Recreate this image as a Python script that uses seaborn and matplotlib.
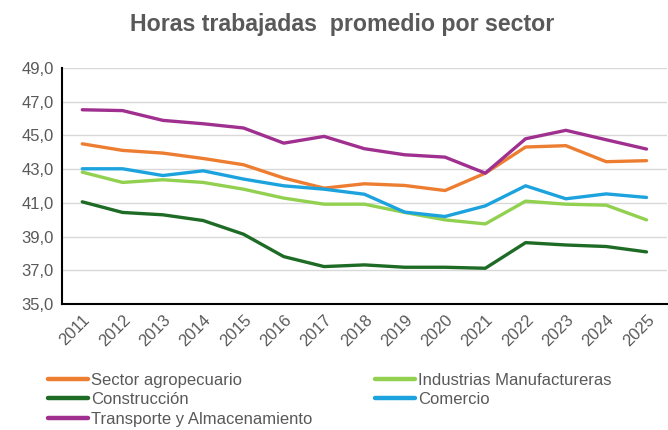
import numpy as np
import pandas as pd
import matplotlib
matplotlib.use("Agg")
import matplotlib.pyplot as plt
import seaborn as sns
from matplotlib.ticker import FuncFormatter

years = list(range(2011, 2026))
agro = [44.50, 44.11, 43.95, 43.63, 43.26, 42.47, 41.87, 42.13, 42.03, 41.73, 42.76, 44.31, 44.39, 43.44, 43.50]
manuf = [42.82, 42.21, 42.37, 42.21, 41.81, 41.28, 40.92, 40.92, 40.43, 39.99, 39.75, 41.10, 40.92, 40.86, 39.99]
constr = [41.06, 40.43, 40.29, 39.95, 39.14, 37.81, 37.22, 37.32, 37.18, 37.18, 37.12, 38.64, 38.50, 38.41, 38.09]
comercio = [43.02, 43.02, 42.62, 42.90, 42.41, 42.01, 41.81, 41.51, 40.45, 40.19, 40.82, 42.01, 41.24, 41.53, 41.32]
transp = [46.52, 46.47, 45.89, 45.69, 45.44, 44.54, 44.94, 44.21, 43.85, 43.71, 42.76, 44.80, 45.30, 44.74, 44.19]

sectors = ["Sector agropecuario", "Industrias Manufactureras", "Construcción",
           "Comercio", "Transporte y Almacenamiento"]
series = [agro, manuf, constr, comercio, transp]
colors = ["#ED7D31", "#92D050", "#1E6B25", "#1CA3DE", "#A0308F"]

df = pd.DataFrame({
    "year": years * len(sectors),
    "value": [v for s in series for v in s],
    "sector": [name for name in sectors for _ in years],
})

sns.set_theme(style="white")
plt.rcParams["font.family"] = ["Liberation Sans", "DejaVu Sans"]
text_gray = "#595959"

fig = plt.figure(figsize=(6.68, 4.30), dpi=100)
ax = fig.add_axes([0.093, 0.293, 0.905, 0.549])

sns.lineplot(data=df, x="year", y="value", hue="sector", hue_order=sectors,
             palette=dict(zip(sectors, colors)), linewidth=2.4, ax=ax, legend=False)

ax.set_ylim(35, 49)
ax.set_yticks(np.arange(35, 50, 2))
ax.yaxis.set_major_formatter(FuncFormatter(lambda v, p: f"{v:.1f}".replace(".", ",")))
ax.set_xlim(2010.5, 2025.5)
ax.set_xticks(years)
ax.set_xticklabels([str(y) for y in years], rotation=45, ha="right", rotation_mode="anchor")
ax.tick_params(axis="both", labelsize=12, labelcolor=text_gray, length=0, pad=6)
ax.grid(axis="y", color="#d9d9d9", linewidth=1)
ax.set_axisbelow(True)
ax.set_xlabel("")
ax.set_ylabel("")
for side in ["top", "right"]:
    ax.spines[side].set_visible(False)
for side in ["left", "bottom"]:
    ax.spines[side].set_color("black")
    ax.spines[side].set_linewidth(1.5)

fig.suptitle("Horas trabajadas  promedio por sector", x=0.512, y=0.969,
             fontsize=16.7, fontweight="bold", color=text_gray)

handles = [plt.Line2D([], [], color=c, linewidth=3.2) for c in colors]
order = [0, 2, 4, 1, 3]
leg = fig.legend([handles[i] for i in order], [sectors[i] for i in order],
                 ncol=2, loc="upper left", bbox_to_anchor=(0.0614, 0.149), frameon=False,
                 fontsize=12, handlelength=2.4, handletextpad=0.18, columnspacing=3.8,
                 labelspacing=0.28, borderaxespad=0)
for t in leg.get_texts():
    t.set_color(text_gray)

fig.savefig("out.png", dpi=100)
